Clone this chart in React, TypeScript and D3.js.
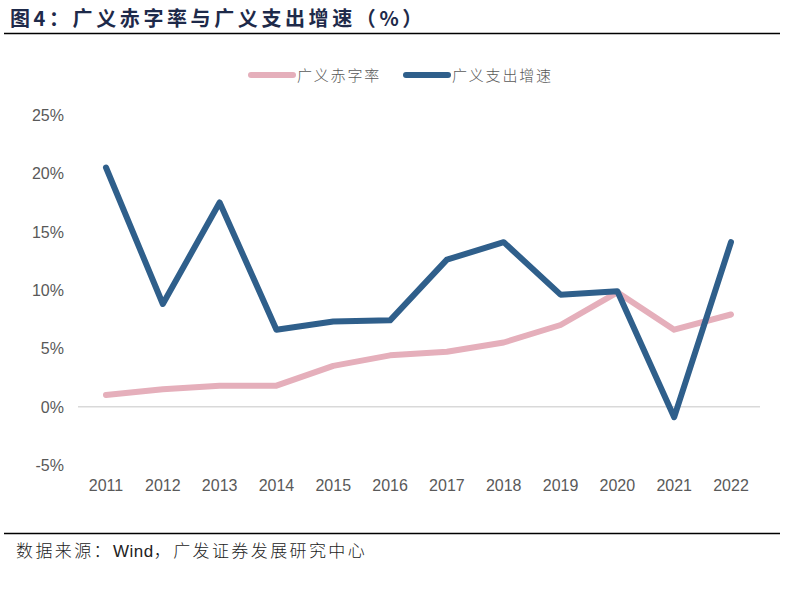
import React from "react";
import * as d3 from "d3";

const years = ["2011", "2012", "2013", "2014", "2015", "2016", "2017", "2018", "2019", "2020", "2021", "2022"];
const deficitRate = [1.0, 1.5, 1.8, 1.8, 3.5, 4.4, 4.7, 5.5, 7.0, 9.8, 6.6, 7.9];
const spendingGrowth = [20.5, 8.8, 17.5, 6.6, 7.3, 7.4, 12.6, 14.1, 9.6, 9.9, -0.9, 14.1];
const yTicks = [-5, 0, 5, 10, 15, 20, 25];

const seriesNames = ["广义赤字率", "广义支出增速"];
const colors = ["#E5AFBB", "#2F5F8B"];

const W = 794;
const H = 592;
const CJK = "'Noto Sans CJK SC', 'Noto Sans', sans-serif";
const LAT = "'Liberation Sans', Arial, sans-serif";

export default function App() {
  const x = d3.scalePoint<string>().domain(years).range([106, 731]);
  const y = d3.scaleLinear().domain([-5, 25]).range([465, 115]);

  const line = d3
    .line<number>()
    .x((_, i) => x(years[i]) as number)
    .y((d) => y(d));

  const series = [deficitRate, spendingGrowth];

  return (
    <svg width={W} height={H} style={{ position: "absolute", left: 0, top: 0, background: "#fff" }}>
      {/* title */}
      <text x={10} y={26} fontSize={20} fontWeight={700} fill="#1E2A4A" fontFamily={CJK} letterSpacing={3.6}>
        图4：广义赤字率与广义支出增速（%）
      </text>
      <line x1={4} x2={780} y1={33.5} y2={33.5} stroke="#000" strokeWidth={1.5} />

      {/* legend */}
      {seriesNames.map((name, i) => {
        const lx = i === 0 ? 251 : 406;
        return (
          <g key={name}>
            <line x1={lx} x2={lx + 42} y1={75} y2={75} stroke={colors[i]} strokeWidth={6} strokeLinecap="round" />
            <text x={lx + 46} y={80.5} fontSize={15} fill="#595959" fontFamily={CJK} fontWeight={300} letterSpacing={1.8}>
              {name}
            </text>
          </g>
        );
      })}

      {/* y axis labels */}
      {yTicks.map((t) => (
        <text key={t} x={64} y={y(t) + 6} textAnchor="end" fontSize={16} fill="#595959" fontFamily={LAT}>
          {t}%
        </text>
      ))}

      {/* zero line */}
      <line x1={78} x2={760} y1={y(0)} y2={y(0)} stroke="#D9D9D9" strokeWidth={1.5} />

      {/* x axis labels */}
      {years.map((yr) => (
        <text key={yr} x={x(yr)} y={491} textAnchor="middle" fontSize={16} fill="#595959" fontFamily={LAT}>
          {yr}
        </text>
      ))}

      {/* lines */}
      {series.map((s, i) => (
        <path
          key={seriesNames[i]}
          d={line(s) || ""}
          fill="none"
          stroke={colors[i]}
          strokeWidth={6}
          strokeLinejoin="round"
          strokeLinecap="round"
        />
      ))}

      {/* footer */}
      <line x1={4} x2={780} y1={533.5} y2={533.5} stroke="#000" strokeWidth={1.5} />
      <text x={16} y={557} fontSize={17} fill="#222" fontFamily={CJK} fontWeight={300} letterSpacing={2.4}>
        数据来源：<tspan fontFamily={LAT} fontWeight={400} letterSpacing={0.5}>Wind</tspan>，广发证券发展研究中心
      </text>
    </svg>
  );
}
